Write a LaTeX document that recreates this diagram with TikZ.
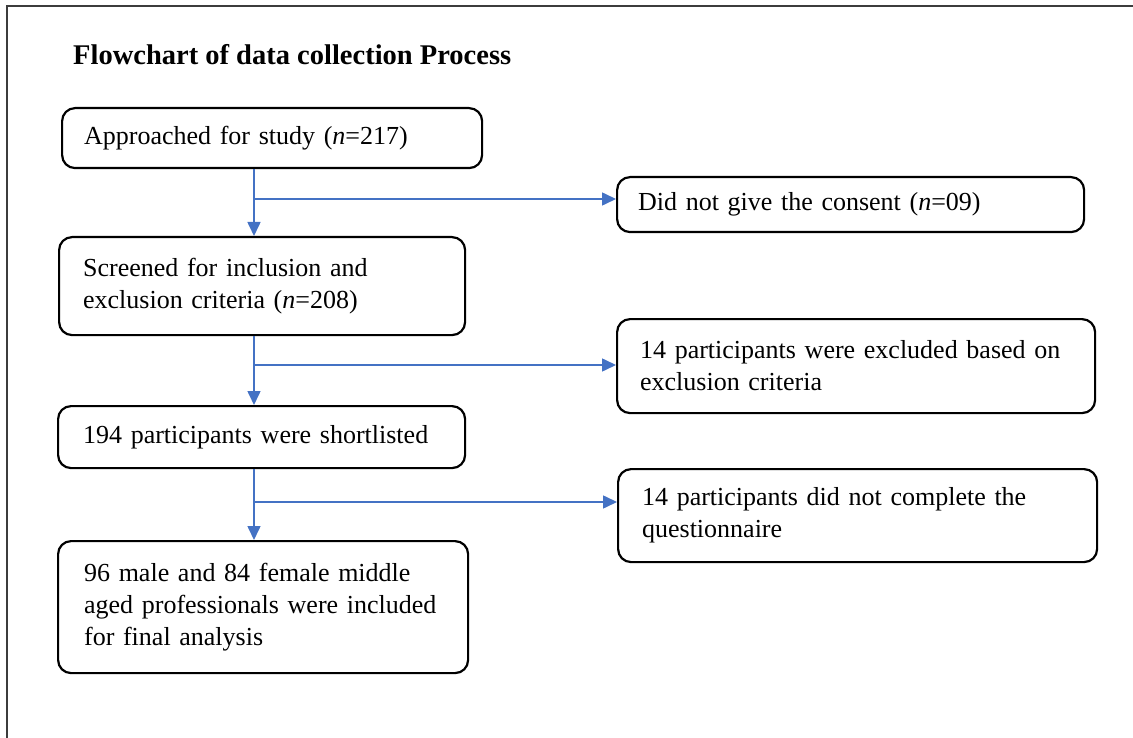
\documentclass[tikz,border=0pt]{standalone}
\usepackage{fontspec}
\setmainfont{Liberation Serif}
\usetikzlibrary{arrows.meta}
\definecolor{flowblue}{RGB}{68,114,196}
\definecolor{framegray}{RGB}{60,60,60}
\begin{document}
\begin{tikzpicture}[x=1pt,y=-1pt,
  box/.style={draw, line width=2.2pt, rounded corners=13pt, align=left, anchor=north west,
    inner ysep=0pt, font=\fontsize{26}{32}\selectfont},
  arr/.style={draw=flowblue, fill=flowblue, line width=1.6pt, -{Triangle[length=14pt,width=13pt]}}]
\useasboundingbox (0,0) rectangle (1133,738);
% frame
\draw[framegray, line width=1.5pt] (7,738) -- (7,6) -- (1133,6);
% title
\node[anchor=base west, inner sep=0pt, font=\fontsize{28.5}{34}\selectfont\bfseries] (title) at (73,65) {Flowchart of data collection Process};
% main column
\node[box, minimum width=420pt, minimum height=60pt, text width=376pt, inner xsep=22pt] (b1) at (61,107) {Approached for study (\textit{n}=217)};
\node[box, minimum width=406pt, minimum height=98pt, text width=358pt, inner xsep=24pt] (b2) at (58,236) {Screened for inclusion and\\exclusion criteria (\textit{n}=208)};
\node[box, minimum width=407pt, minimum height=62pt, text width=357pt, inner xsep=25pt] (b3) at (57,405) {194 participants were shortlisted};
\node[box, minimum width=410pt, minimum height=132pt, text width=358pt, inner xsep=26pt] (b4) at (57,540) {96 male and 84 female middle\\aged professionals were included\\for final analysis};
% side column
\node[box, minimum width=467pt, minimum height=55pt, text width=425pt, inner xsep=21pt] (r1) at (616,176) {Did not give the consent (\textit{n}=09)};
\node[box, minimum width=478pt, minimum height=94pt, text width=432pt, inner xsep=23pt] (r2) at (616,318) {14 participants were excluded based on\\exclusion criteria};
\node[box, minimum width=479pt, minimum height=93pt, text width=431pt, inner xsep=24pt] (r3) at (617,468) {14 participants did not complete the\\questionnaire};
% connectors
\coordinate (vx) at (254,0);
\coordinate (j1) at (254,199);
\coordinate (j2) at (254,365);
\coordinate (j3) at (254,502);
\draw[arr] (b1.south -| vx) -- (b2.north -| vx);
\draw[arr] (b2.south -| vx) -- (b3.north -| vx);
\draw[arr] (b3.south -| vx) -- (b4.north -| vx);
\draw[arr] (j1) -- (r1.west |- j1);
\draw[arr] (j2) -- (r2.west |- j2);
\draw[arr] (j3) -- (r3.west |- j3);
\end{tikzpicture}
\end{document}
